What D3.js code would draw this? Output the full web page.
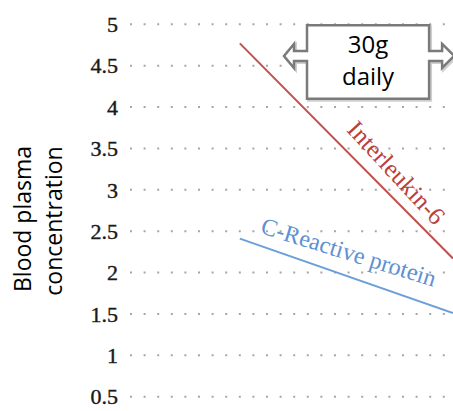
<!DOCTYPE html>
<html>
<head>
<meta charset="utf-8">
<script src="https://cdn.jsdelivr.net/npm/d3@7"></script>
<style>
  html, body { margin: 0; padding: 0; background: white; overflow: hidden; }
</style>
</head>
<body>
<script>
// data
const yTicks = [0.5, 1, 1.5, 2, 2.5, 3, 3.5, 4, 4.5, 5]
const yTitle = ["Blood plasma", "concentration"]

const il6X = [3.4, 10]
const il6Y = [4.77, 2.17]
const crpX = [3.4, 10]
const crpY = [2.41, 1.51]

const seriesNames = ["Interleukin-6", "C-Reactive protein"]

const calloutX = [5.48, 9.26]
const calloutY = [4.99, 4.10]
const calloutText = ["30g", "daily"]

function setCanvas(w, h) {
    return d3.select("body")
    .append("svg")
        .attr("width", w)
        .attr("height", h)
}

function draw() {
    const w = 453, h = 411
    const c = {
        grid:  "#a6a6a6",
        tick:  "#1a1a1a",
        red:   "#c0504d",
        redT:  "#b9413d",
        blue:  "#6c9fd9",
        blueT: "#5d91d3",
        box:   "#7a7a7a",
    }
    const svg = setCanvas(w, h)

    const x = d3.scaleLinear().domain([0, 10]).range([130, 453])
    const y = d3.scaleLinear().domain([0.5, 5]).range([396.7, 24.3])

    // dotted grid
    svg.append("g")
        .selectAll("line")
        .data(yTicks)
        .join("line")
            .attr("x1", x(0))
            .attr("x2", w + 10)
            .attr("y1", d => y(d))
            .attr("y2", d => y(d))
            .attr("stroke", c.grid)
            .attr("stroke-width", 2)
            .attr("stroke-dasharray", "2 11.6")

    // tick labels
    svg.append("g")
        .attr("font-family", "'Liberation Serif', serif")
        .attr("font-size", 22)
        .attr("fill", c.tick)
        .attr("stroke", c.tick)
        .attr("stroke-width", 0.4)
        .attr("text-anchor", "end")
    .selectAll("text")
        .data(yTicks)
        .join("text")
            .attr("x", 118)
            .attr("y", d => y(d))
            .attr("dy", "0.35em")
            .text(d => d)

    // y title
    svg.append("g")
        .attr("font-family", "'Open Sans', sans-serif")
        .attr("font-size", 23)
        .attr("fill", "#000")
        .attr("text-anchor", "middle")
    .selectAll("text")
        .data(yTitle)
        .join("text")
            .attr("transform", (d, i) => `translate(${31 + i * 31},${219 + i * 2}) rotate(-90)`)
            .text(d => d)

    // lines + labels
    const series = [
        {name: seriesNames[0], xs: il6X, ys: il6Y, col: c.red, tcol: c.redT, along: 136, off: -14, tilt: 2, fs: 25},
        {name: seriesNames[1], xs: crpX, ys: crpY, col: c.blue, tcol: c.blueT, along: 17, off: -12, tilt: -2, fs: 24},
    ]
    series.forEach(s => {
        const pts = s.xs.map((v, i) => [x(v), y(s.ys[i])])
        svg.append("path")
            .attr("d", d3.line()(pts))
            .attr("fill", "none")
            .attr("stroke", s.col)
            .attr("stroke-width", 2)
        const ang = Math.atan2(pts[1][1] - pts[0][1], pts[1][0] - pts[0][0]) * 180 / Math.PI
        const tx = pts[0][0] + s.along * Math.cos(ang * Math.PI / 180)
        const ty = pts[0][1] + s.along * Math.sin(ang * Math.PI / 180)
        svg.append("text")
            .attr("transform", `translate(${tx},${ty}) rotate(${ang + s.tilt})`)
            .attr("y", s.off)
            .attr("font-family", "'Liberation Serif', serif")
            .attr("font-size", s.fs)
            .attr("fill", s.tcol)
            .text(s.name)
    })

    // callout box with double arrow
    const bx0 = x(calloutX[0]), bx1 = x(calloutX[1])
    const by0 = y(calloutY[0]), by1 = y(calloutY[1])
    const cy = (by0 + by1) / 2 - 6
    const sh = 5, ah = 12, al = 12, shaft = 13
    const poly = [
        [bx0, by0], [bx1, by0], [bx1, cy - sh], [bx1 + shaft, cy - sh], [bx1 + shaft, cy - ah],
        [bx1 + shaft + al, cy], [bx1 + shaft, cy + ah], [bx1 + shaft, cy + sh], [bx1, cy + sh],
        [bx1, by1], [bx0, by1], [bx0, cy + sh], [bx0 - shaft, cy + sh], [bx0 - shaft, cy + ah],
        [bx0 - shaft - al + 2, cy], [bx0 - shaft, cy - ah], [bx0 - shaft, cy - sh], [bx0, cy - sh],
    ]
    svg.append("polygon")
        .attr("points", poly.map(p => p.join(",")).join(" "))
        .attr("transform", "translate(1.5,1.5)")
        .attr("fill", "none")
        .attr("stroke", "#cfcfcf")
        .attr("stroke-width", 3)
    svg.append("polygon")
        .attr("points", poly.map(p => p.join(",")).join(" "))
        .attr("fill", "white")
        .attr("stroke", c.box)
        .attr("stroke-width", 2.5)
        .attr("stroke-linejoin", "miter")

    svg.append("g")
        .attr("font-family", "'Open Sans', sans-serif")
        .attr("font-size", 24)
        .attr("fill", "#000")
        .attr("text-anchor", "middle")
    .selectAll("text")
        .data(calloutText)
        .join("text")
            .attr("x", (bx0 + bx1) / 2)
            .attr("y", (d, i) => 53 + i * 32)
            .text(d => d)
}

draw()
</script>
</body>
</html>
